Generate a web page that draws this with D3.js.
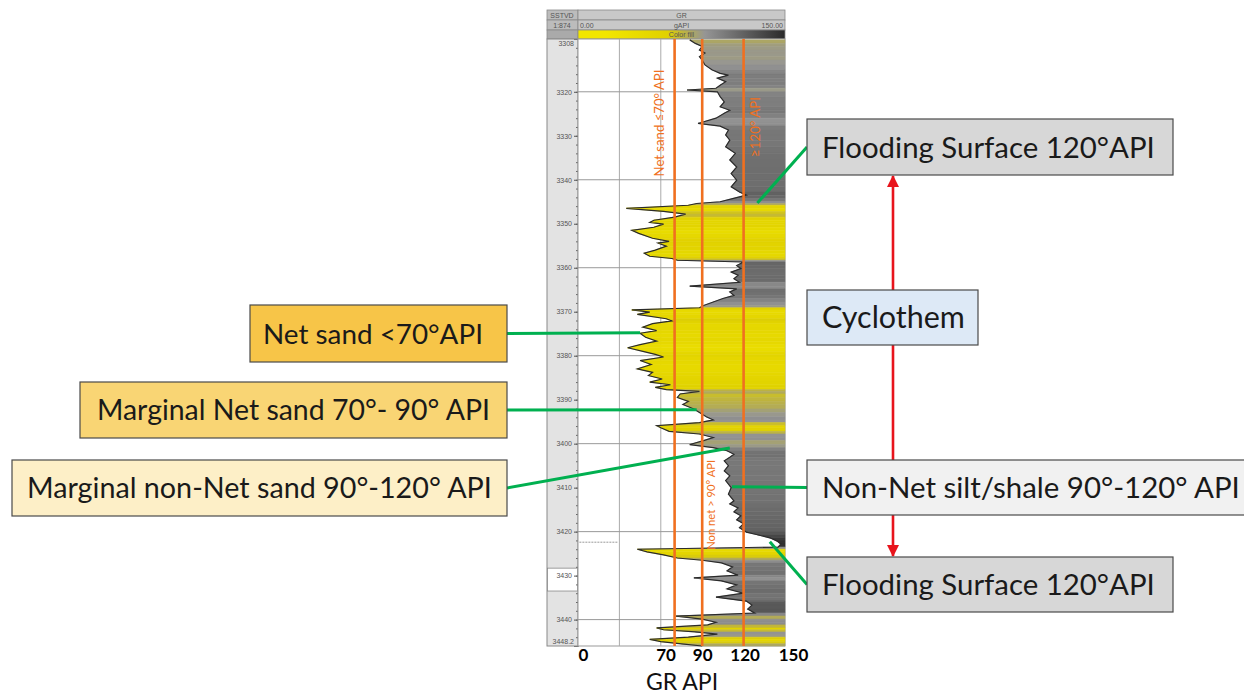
<!DOCTYPE html>
<html>
<head>
<meta charset="utf-8">
<script src="https://cdn.jsdelivr.net/npm/d3@7"></script>
<style>
body { margin: 0; background: #fff; }
svg { display: block; }
.small { font-family: "Liberation Sans", Arial, sans-serif; font-size: 7px; fill: #555; }
.note { font-family: Lato, "Open Sans", sans-serif; fill: #1a1a1a; }
</style>
</head>
<body>
<svg id="chart" width="1244" height="695"></svg>
<script>
// GR log: depth (m) and gamma ray (API)
var depth = [3308.2,3309.0,3309.7,3310.5,3311.2,3312.0,3312.8,3313.9,3315.0,3315.8,3316.2,3316.9,3317.7,3318.5,3319.2,3319.6,3320.0,
  3321.1,3322.3,3323.4,3324.2,3324.9,3326.0,3327.2,3327.8,3328.7,3329.8,3331.0,3332.5,3334.0,3335.5,3337.1,3338.6,3340.1,3341.6,
  3342.8,3343.5,3344.3,3345.0,3345.4,3345.8,3346.5,3347.2,3347.8,3348.5,3349.2,3349.7,3350.1,3350.8,3351.5,3352.2,3353.3,3354.0,
  3354.4,3355.1,3356.0,3356.7,3357.4,3357.9,3358.3,3358.7,3359.5,3360.2,3361.0,3361.7,3362.5,3363.3,3364.2,3364.8,3365.5,3366.3,
  3367.0,3367.8,3368.6,3369.1,3369.6,3370.1,3370.6,3371.6,3372.1,3372.7,3373.5,3374.3,3374.9,3375.8,3376.7,3377.5,3378.2,3379.0,
  3379.7,3380.3,3381.1,3382.0,3383.0,3383.8,3384.5,3385.3,3386.0,3386.6,3387.2,3387.7,3388.1,3388.7,3389.5,3390.4,3391.1,3392.1,
  3392.9,3393.9,3394.6,3395.2,3395.9,3396.4,3397.2,3397.8,3398.6,3399.3,3400.2,3400.9,3401.6,3402.4,3403.1,3403.9,3405.0,3406.2,
  3407.3,3408.4,3410.0,3411.5,3413.0,3413.7,3414.6,3415.5,3416.4,3417.3,3418.2,3419.1,3420.1,3420.7,3421.4,3422.1,3422.8,3423.5,
  3424.0,3424.6,3425.3,3426.0,3426.5,3427.1,3428.0,3428.9,3429.9,3430.5,3431.2,3432.1,3433.0,3434.0,3434.9,3435.8,3436.7,3437.6,
  3438.5,3439.2,3439.9,3440.6,3441.2,3441.9,3442.3,3442.8,3443.3,3444.0,3444.5,3445.0,3445.5,3446.0];
var gr = [81,85,90,88,92,88,90,92,97,103,109,101,107,103,100,79,101,
  103,106,103,110,106,100,87,103,109,107,110,107,114,110,115,111,115,111,
  117,122,112,103,86,80,35,62,78,70,55,52,62,55,39,44,54,66,
  58,64,56,48,52,68,72,120,115,118,111,116,113,117,81,115,110,113,
  105,98,91,88,39,52,43,64,68,54,47,57,45,49,57,45,36,47,
  56,62,45,53,43,54,51,61,52,67,56,64,88,74,72,80,76,84,
  88,93,98,88,57,60,66,88,98,91,81,98,108,113,110,106,109,106,
  110,107,111,109,113,110,116,113,118,115,120,117,122,130,139,144,147,145,
  43,50,62,72,90,104,112,108,116,84,104,115,108,120,100,122,126,123,
  128,71,90,100,94,57,62,85,101,80,52,60,75,90];

var cutoffs = [70, 90, 120];
var cutoffLabels = ['Net sand \u226470\u00b0 API', 'Non net > 90\u00b0 API', '\u2265120\u00b0 API'];
var bottomTicks = [0, 70, 90, 120, 150];
var depthTicks = [3320, 3330, 3340, 3350, 3360, 3370, 3380, 3390, 3400, 3410, 3420, 3430, 3440];
var depthEnds = ['3308', '3448.2'];

var leftNotes = ['Net sand <70\u00b0API', 'Marginal Net sand 70\u00b0- 90\u00b0 API', 'Marginal non-Net sand 90\u00b0-120\u00b0 API'];
var leftNoteDepth = [3374.8, 3392.3, 3401.0];
var leftNoteGR = [45, 86, 110];
var rightNotes = ['Flooding Surface 120\u00b0API', 'Cyclothem', 'Non-Net silt/shale 90\u00b0-120\u00b0 API', 'Flooding Surface 120\u00b0API'];
var rightNoteDepth = [3345.3, null, 3409.8, 3422.3];
var rightNoteGR = [130, null, 111.6, 139];

// layout
var leftBoxes = [
  {x:250, y:305, w:257, h:57, fill:'#f7c548', tx:13, tw:220},
  {x:80,  y:382, w:427, h:56, fill:'#f9d574', tx:17, tw:393},
  {x:12,  y:460, w:495, h:56, fill:'#fdefc7', tx:15, tw:465}];
var rightBoxes = [
  {x:807, y:119, w:366, h:56, fill:'#d7d7d7', tx:15, tw:333},
  {x:807, y:290, w:171, h:55, fill:'#dde9f6', tx:15, tw:143},
  {x:807, y:460, w:440, h:55, fill:'#f1f1f1', tx:15, tw:418},
  {x:807, y:557, w:366, h:55, fill:'#d7d7d7', tx:15, tw:333}];
var cutLabelPos = [{dx:-15, d:3327.1, len:107}, {dx:9, d:3413.9, len:90}, {dx:12, d:3328.0, len:60}];
var tickDx = [5, -9, 0, 1, 8];

var svg = d3.select('#chart');
var x = d3.scaleLinear().domain([0, 150]).range([578, 785]);
var y = d3.scaleLinear().domain([3308, 3446]).range([39, 646]);
var color = d3.scaleLinear().domain([20, 65, 78, 92, 150])
  .range(['#f2e600', '#e0d100', '#b9b04a', '#959595', '#2a2a2a']).clamp(true);

function fitText(sel, width){
  var w = sel.node().getComputedTextLength();
  var fs = parseFloat(sel.attr('font-size'));
  sel.attr('font-size', fs * width / w);
}

// header
var defs = svg.append('defs');
var grad = defs.append('linearGradient').attr('id', 'cfill');
[0, 20, 65, 78, 92, 150].forEach(function(v){
  grad.append('stop').attr('offset', (v/150*100) + '%').attr('stop-color', color(v));
});
var head = svg.append('g');
head.append('rect').attr('x', 547).attr('y', 10).attr('width', 31).attr('height', 10).attr('fill', '#bcbcbc').attr('stroke', '#888').attr('stroke-width', 0.8);
head.append('rect').attr('x', 578).attr('y', 10).attr('width', 207).attr('height', 10).attr('fill', '#c8c8c8').attr('stroke', '#888').attr('stroke-width', 0.8);
head.append('rect').attr('x', 547).attr('y', 20).attr('width', 31).attr('height', 10).attr('fill', '#bcbcbc').attr('stroke', '#888').attr('stroke-width', 0.8);
head.append('rect').attr('x', 578).attr('y', 20).attr('width', 207).attr('height', 10).attr('fill', '#c8c8c8').attr('stroke', '#888').attr('stroke-width', 0.8);
head.append('rect').attr('x', 547).attr('y', 30).attr('width', 31).attr('height', 9).attr('fill', '#aaa').attr('stroke', '#888').attr('stroke-width', 0.8);
head.append('rect').attr('x', 578).attr('y', 30).attr('width', 207).attr('height', 9).attr('fill', 'url(#cfill)').attr('stroke', '#888').attr('stroke-width', 0.8);
head.append('text').attr('class', 'small').attr('x', 562).attr('y', 17.5).attr('text-anchor', 'middle').attr('font-size', 6).text('SSTVD');
head.append('text').attr('class', 'small').attr('x', 562).attr('y', 27.5).attr('text-anchor', 'middle').attr('font-size', 6).text('1:874');
head.append('text').attr('class', 'small').attr('x', x(75)).attr('y', 17.5).attr('text-anchor', 'middle').text('GR');
head.append('text').attr('class', 'small').attr('x', x(0) + 2).attr('y', 27.5).text('0.00');
head.append('text').attr('class', 'small').attr('x', x(75)).attr('y', 27.5).attr('text-anchor', 'middle').text('gAPI');
head.append('text').attr('class', 'small').attr('x', x(150) - 2).attr('y', 27.5).attr('text-anchor', 'end').text('150.00');
head.append('text').attr('class', 'small').attr('x', x(75)).attr('y', 37).attr('text-anchor', 'middle').attr('fill', '#444').text('Color fill');

// depth column
svg.append('rect').attr('x', 547).attr('y', y(3308)).attr('width', 31).attr('height', y(3446) - y(3308))
  .attr('fill', '#e3e3e3').attr('stroke', '#8a8a8a');
svg.append('rect').attr('x', 547.5).attr('y', y(3428.3)).attr('width', 30).attr('height', y(3433.5) - y(3428.3))
  .attr('fill', '#fff').attr('stroke', '#888').attr('stroke-width', 0.8);

var minor = svg.append('g').attr('transform', 'translate(578,0)')
  .call(d3.axisLeft(y).tickValues(d3.range(3310, 3446, 2)).tickSize(2).tickFormat(''));
minor.select('.domain').remove();
minor.selectAll('line').attr('stroke', '#666');
var dax = svg.append('g').attr('transform', 'translate(578,0)')
  .call(d3.axisLeft(y).tickValues(depthTicks).tickSize(4).tickPadding(2).tickFormat(d3.format('d')));
dax.select('.domain').attr('stroke', '#777');
dax.selectAll('line').attr('stroke', '#555');
dax.selectAll('text').attr('class', 'small');
svg.append('text').attr('class', 'small').attr('x', 574).attr('y', y(3308) + 7).attr('text-anchor', 'end').attr('font-size', 6).text(depthEnds[0]);
svg.append('text').attr('class', 'small').attr('x', 574).attr('y', y(3446) - 2).attr('text-anchor', 'end').attr('font-size', 6).text(depthEnds[1]);

// track
svg.append('rect').attr('x', x(0)).attr('y', y(3308)).attr('width', x(150) - x(0)).attr('height', y(3446) - y(3308))
  .attr('fill', '#fff').attr('stroke', '#999');
svg.append('g').selectAll('line').data([30, 60, 90, 120]).enter().append('line')
  .attr('x1', function(d){ return x(d); }).attr('x2', function(d){ return x(d); })
  .attr('y1', y(3308)).attr('y2', y(3446)).attr('stroke', '#aaa').attr('stroke-width', 1);
svg.append('g').selectAll('line').data([3320, 3340, 3360, 3380, 3400, 3420, 3440]).enter().append('line')
  .attr('x1', x(0)).attr('x2', x(150))
  .attr('y1', function(d){ return y(d); }).attr('y2', function(d){ return y(d); })
  .attr('stroke', '#999').attr('stroke-width', 1);
svg.append('line').attr('x1', x(1)).attr('x2', x(29)).attr('y1', y(3422.4)).attr('y2', y(3422.4))
  .attr('stroke', '#999').attr('stroke-width', 1).attr('stroke-dasharray', '2,1');

var pts = depth.map(function(d, i){ return {depth: d, gr: gr[i]}; });
var band = d3.area()
  .x0(function(d){ return x(d.gr); })
  .x1(x(150))
  .y(function(d){ return y(d.depth); });
svg.append('g').selectAll('path').data(d3.pairs(pts)).enter().append('path')
  .attr('d', function(p){ return band(p); })
  .attr('fill', function(p){ return color((p[0].gr + p[1].gr) / 2); })
  .attr('stroke', function(p){ return color((p[0].gr + p[1].gr) / 2); })
  .attr('stroke-width', 0.6);
svg.append('path').datum(pts)
  .attr('d', d3.line().x(function(d){ return x(d.gr); }).y(function(d){ return y(d.depth); }))
  .attr('fill', 'none').attr('stroke', '#2b2b2b').attr('stroke-width', 1.2);

// cut-off lines
svg.append('g').selectAll('line').data(cutoffs).enter().append('line')
  .attr('x1', function(d){ return x(d); }).attr('x2', function(d){ return x(d); })
  .attr('y1', y(3308)).attr('y2', y(3446))
  .attr('stroke', '#f07020').attr('stroke-width', 2.6);
cutoffs.forEach(function(c, i){
  var p = cutLabelPos[i];
  var t = svg.append('text')
    .attr('transform', 'translate(' + (x(c) + p.dx) + ',' + y(p.d) + ') rotate(-90)')
    .attr('text-anchor', 'middle').attr('dy', '0.35em')
    .attr('font-family', 'Lato, sans-serif').attr('font-size', 10).attr('fill', '#f07020')
    .text(cutoffLabels[i]);
  fitText(t, p.len);
});

// bottom axis
var bax = svg.append('g').attr('transform', 'translate(0,' + y(3446) + ')')
  .call(d3.axisBottom(x).tickValues(bottomTicks).tickSize(0).tickPadding(3));
bax.select('.domain').remove();
bax.selectAll('text').attr('font-family', 'Lato, sans-serif').attr('font-weight', 'bold')
  .attr('font-size', 17).attr('fill', '#000')
  .attr('dx', function(d, i){ return tickDx[i]; });
svg.append('text').attr('x', 682).attr('y', 689.5).attr('text-anchor', 'middle')
  .attr('font-family', 'Lato, sans-serif').attr('font-size', 23).attr('fill', '#111').text('GR API');

// cyclothem arrows
defs.append('marker').attr('id', 'ahead').attr('viewBox', '0 0 12 12').attr('refX', 11).attr('refY', 6)
  .attr('markerUnits', 'userSpaceOnUse').attr('markerWidth', 12).attr('markerHeight', 12).attr('orient', 'auto')
  .append('path').attr('d', 'M0,0 L12,6 L0,12 z').attr('fill', '#e8141c');
var ax = rightBoxes[0].x + 86;
svg.append('line').attr('x1', ax).attr('x2', ax).attr('y1', rightBoxes[1].y).attr('y2', rightBoxes[0].y + rightBoxes[0].h + 1)
  .attr('stroke', '#e8141c').attr('stroke-width', 2.6).attr('marker-end', 'url(#ahead)');
svg.append('line').attr('x1', ax).attr('x2', ax).attr('y1', rightBoxes[1].y + rightBoxes[1].h).attr('y2', rightBoxes[2].y)
  .attr('stroke', '#e8141c').attr('stroke-width', 2.6);
svg.append('line').attr('x1', ax).attr('x2', ax).attr('y1', rightBoxes[2].y + rightBoxes[2].h).attr('y2', rightBoxes[3].y - 1)
  .attr('stroke', '#e8141c').attr('stroke-width', 2.6).attr('marker-end', 'url(#ahead)');

// callouts
function drawNote(box, label, d, g, side){
  if (d !== null) {
    var sx = side === 'left' ? box.x + box.w : box.x;
    svg.append('line').attr('x1', sx).attr('y1', box.y + box.h / 2).attr('x2', x(g)).attr('y2', y(d))
      .attr('stroke', '#00b050').attr('stroke-width', 3);
  }
  svg.append('rect').attr('x', box.x).attr('y', box.y).attr('width', box.w).attr('height', box.h)
    .attr('fill', box.fill).attr('stroke', '#4a4a4a').attr('stroke-width', 1.2);
  var t = svg.append('text').attr('class', 'note').attr('x', box.x + box.tx).attr('y', box.y + box.h / 2)
    .attr('dy', '0.36em').attr('font-size', 28).text(label);
  fitText(t, box.tw);
}
leftNotes.forEach(function(n, i){ drawNote(leftBoxes[i], n, leftNoteDepth[i], leftNoteGR[i], 'left'); });
rightNotes.forEach(function(n, i){ drawNote(rightBoxes[i], n, rightNoteDepth[i], rightNoteGR[i], 'right'); });
</script>
</body>
</html>
